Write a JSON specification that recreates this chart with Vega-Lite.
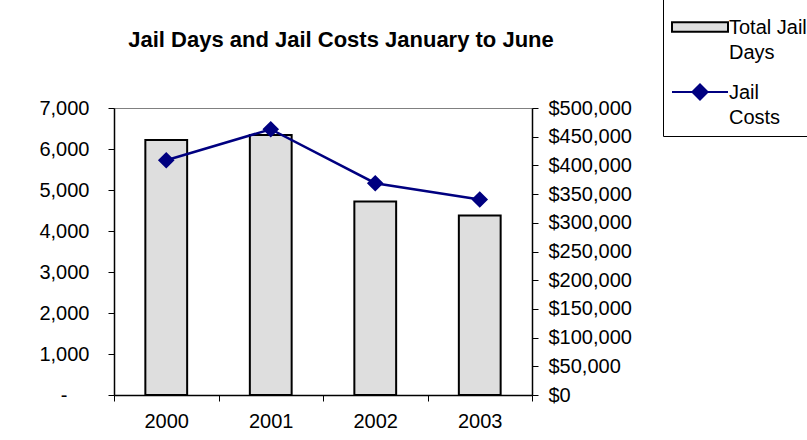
{
  "$schema": "https://vega.github.io/schema/vega-lite/v6.json",
  "width": 418,
  "height": 287,
  "autosize": {"type": "none"},
  "padding": {"left": 114, "top": 108, "right": 275, "bottom": 45},
  "background": "white",
  "title": {
    "text": "Jail Days and Jail Costs January to June",
    "font": "Liberation Sans",
    "fontSize": 22,
    "fontWeight": "bold",
    "color": "#000000",
    "anchor": "middle",
    "frame": "group",
    "dx": 18,
    "baseline": "alphabetic",
    "offset": -79
  },
  "data": {
    "values": [
      {"year": "2000", "series": "Total Jail Days", "value": 6220},
      {"year": "2001", "series": "Total Jail Days", "value": 6340},
      {"year": "2002", "series": "Total Jail Days", "value": 4720},
      {"year": "2003", "series": "Total Jail Days", "value": 4380},
      {"year": "2000", "series": "Jail Costs", "value": 409000},
      {"year": "2001", "series": "Jail Costs", "value": 463000},
      {"year": "2002", "series": "Jail Costs", "value": 369000},
      {"year": "2003", "series": "Jail Costs", "value": 340500}
    ]
  },
  "encoding": {
    "x": {
      "field": "year",
      "type": "nominal",
      "sort": null,
      "scale": {"paddingInner": 0, "paddingOuter": 0},
      "axis": {"title": null, "labelAngle": 0, "tickBand": "extent", "tickSize": 6, "labelPadding": 10}
    }
  },
  "layer": [
    {
      "transform": [{"filter": "datum.series === 'Total Jail Days'"}],
      "mark": {"type": "bar", "width": {"band": 0.4}, "stroke": "#000000", "strokeWidth": 2, "opacity": 1},
      "encoding": {
        "y": {
          "field": "value",
          "type": "quantitative",
          "scale": {"domain": [0, 7000], "nice": false, "zero": true},
          "axis": {
            "orient": "left",
            "title": null,
            "values": [0, 1000, 2000, 3000, 4000, 5000, 6000, 7000],
            "labelExpr": "datum.value == 0 ? '-' : format(datum.value, ',')",
            "tickSize": 6,
            "labelPadding": {"condition": {"test": "datum.value == 0", "value": 41}, "value": 19}
          }
        },
        "fill": {
          "field": "series",
          "type": "nominal",
          "scale": {"domain": ["Total Jail Days", "Jail Costs"], "range": ["#dedede", "#000080"]},
          "legend": {
            "title": null,
            "orient": "none",
            "legendX": 549,
            "legendY": -118,
            "strokeColor": "#000000",
            "fillColor": "white",
            "padding": 8,
            "symbolSize": 3136,
            "symbolStrokeWidth": 2,
            "symbolType": "M-1,0H1M-0.27,0L0,-0.27L0.27,0L0,0.27Z",
            "labelFont": "Liberation Sans",
            "labelFontSize": 20,
            "labelColor": "#000000",
            "labelOffset": 0,
            "rowPadding": -2,
            "labelLimit": 0,
            "labelBaseline": "top",
            "labelExpr": "datum.label === 'Total Jail Days' ? ['Total Jail', 'Days'] : ['Jail', 'Costs']",
            "encode": {
              "symbols": {
                "update": {
                  "shape": {"signal": "datum.value === 'Total Jail Days' ? 'M-1,-0.17H1V0.17H-1Z' : 'M-1,0H1M-0.27,0L0,-0.27L0.27,0L0,0.27Z'"},
                  "strokeWidth": {"value": 2},
                  "opacity": {"value": 1}
                }
              },
              "labels": {
                "update": {
                  "lineHeight": {"value": 25},
                  "dy": {"value": -9}
                }
              }
            }
          }
        }
      }
    },
    {
      "transform": [{"filter": "datum.series === 'Jail Costs'"}],
      "mark": {"type": "line", "strokeWidth": 2.5, "point": {"shape": "diamond", "filled": true, "fill": "#000080", "size": 190, "opacity": 1}},
      "encoding": {
        "y": {
          "field": "value",
          "type": "quantitative",
          "scale": {"domain": [0, 500000], "nice": false, "zero": true},
          "axis": {
            "orient": "right",
            "title": null,
            "values": [0, 50000, 100000, 150000, 200000, 250000, 300000, 350000, 400000, 450000, 500000],
            "format": "$,.0f",
            "tickSize": 6,
            "labelPadding": 10
          }
        },
        "stroke": {
          "field": "series",
          "type": "nominal",
          "scale": {"domain": ["Total Jail Days", "Jail Costs"], "range": ["#000000", "#000080"]},
          "legend": {
            "title": null,
            "orient": "none",
            "legendX": 549,
            "legendY": -118,
            "strokeColor": "#000000",
            "fillColor": "white",
            "padding": 8,
            "symbolSize": 3136,
            "symbolStrokeWidth": 2,
            "symbolType": "M-1,0H1M-0.27,0L0,-0.27L0.27,0L0,0.27Z",
            "labelFont": "Liberation Sans",
            "labelFontSize": 20,
            "labelColor": "#000000",
            "labelOffset": 0,
            "rowPadding": -2,
            "labelLimit": 0,
            "labelBaseline": "top",
            "labelExpr": "datum.label === 'Total Jail Days' ? ['Total Jail', 'Days'] : ['Jail', 'Costs']",
            "encode": {
              "symbols": {
                "update": {
                  "shape": {"signal": "datum.value === 'Total Jail Days' ? 'M-1,-0.17H1V0.17H-1Z' : 'M-1,0H1M-0.27,0L0,-0.27L0.27,0L0,0.27Z'"},
                  "strokeWidth": {"value": 2},
                  "opacity": {"value": 1}
                }
              },
              "labels": {
                "update": {
                  "lineHeight": {"value": 25},
                  "dy": {"value": -9}
                }
              }
            }
          }
        }
      }
    }
  ],
  "resolve": {"scale": {"y": "independent"}},
  "config": {
    "view": {"stroke": "#808080", "strokeWidth": 1},
    "axis": {
      "labelFont": "Liberation Sans",
      "labelFontSize": 20,
      "labelColor": "#000000",
      "domainColor": "#000000",
      "domainWidth": 1.5,
      "tickColor": "#000000",
      "tickWidth": 1,
      "grid": false
    }
  }
}
